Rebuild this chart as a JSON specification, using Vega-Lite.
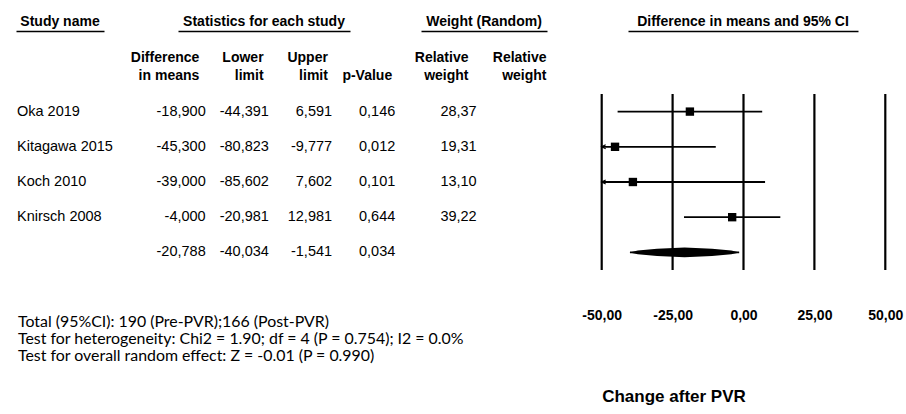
{
  "$schema": "https://vega.github.io/schema/vega-lite/v6.json",
  "width": 906,
  "height": 414,
  "padding": 0,
  "autosize": {"type": "none"},
  "background": "white",
  "config": {
    "view": {"stroke": null},
    "locale": {"number": {"decimal": ",", "thousands": ".", "grouping": [3], "currency": ["", ""], "minus": "-"}},
    "text": {"font": "Liberation Sans", "fontSize": 14.5, "color": "#000"},
    "axis": {"labelFont": "Liberation Sans", "titleFont": "Liberation Sans"}
  },
  "datasets": {
    "studies": [
      {"study": "Oka 2019", "label": "Oka 2019", "diff": -18.9, "lower": -44.391, "upper": 6.591, "p": 0.146, "weight": 28.37},
      {"study": "Kitagawa 2015", "label": "Kitagawa 2015", "diff": -45.3, "lower": -80.823, "upper": -9.777, "p": 0.012, "weight": 19.31},
      {"study": "Koch 2010", "label": "Koch 2010", "diff": -39.0, "lower": -85.602, "upper": 7.602, "p": 0.101, "weight": 13.10},
      {"study": "Knirsch 2008", "label": "Knirsch 2008", "diff": -4.0, "lower": -20.981, "upper": 12.981, "p": 0.644, "weight": 39.22},
      {"study": "Summary", "label": "", "diff": -20.788, "lower": -40.034, "upper": -1.541, "p": 0.034, "weight": null}
    ],
    "groups": [
      {"group": "Study name"},
      {"group": "Statistics for each study"},
      {"group": "Weight (Random)"},
      {"group": "Difference in means and 95% CI"}
    ],
    "statHeaders": [
      {"col": "diff", "header": "Difference\nin means"},
      {"col": "lower", "header": "Lower\nlimit"},
      {"col": "upper", "header": "Upper\nlimit"},
      {"col": "p", "header": "\np-Value"}
    ],
    "weightHeaders": [
      {"col": "w1", "header": "Relative\nweight"},
      {"col": "w2", "header": "Relative\nweight"}
    ],
    "ticks": [{"v": -50}, {"v": -25}, {"v": 0}, {"v": 25}, {"v": 50}],
    "notes": [
      {"line": "Total (95%CI): 190 (Pre-PVR);166 (Post-PVR)"},
      {"line": "Test for heterogeneity: Chi2 = 1.90; df = 4 (P = 0.754); I2 = 0.0%"},
      {"line": "Test for overall random effect: Z = -0.01 (P = 0.990)"}
    ]
  },
  "resolve": {"scale": {"x": "independent", "y": "independent"}, "axis": {"x": "independent", "y": "independent"}},
  "layer": [
    {
      "data": {"name": "groups"},
      "transform": [{"filter": "datum.group === 'Study name'"}],
      "mark": {"type": "text", "fontWeight": "bold", "fontSize": 14, "baseline": "middle"},
      "encoding": {
        "x": {"field": "group", "type": "nominal", "scale": {"type": "band", "domain": ["Study name"], "range": [16, 104], "paddingInner": 0, "paddingOuter": 0},
              "axis": {"orient": "top", "offset": -31, "labels": false, "ticks": false, "domain": true, "domainColor": "#000", "domainWidth": 1.6, "title": null, "grid": false}},
        "y": {"datum": "group", "type": "nominal", "scale": {"type": "point", "domain": ["group", "sub"], "range": [22, 58], "padding": 0}, "axis": null},
        "text": {"field": "group"}
      }
    },
    {
      "data": {"name": "groups"},
      "transform": [{"filter": "datum.group === 'Statistics for each study'"}],
      "mark": {"type": "text", "fontWeight": "bold", "fontSize": 14, "baseline": "middle"},
      "encoding": {
        "x": {"field": "group", "type": "nominal", "scale": {"type": "band", "domain": ["Statistics for each study"], "range": [178, 350], "paddingInner": 0, "paddingOuter": 0},
              "axis": {"orient": "top", "offset": -31, "labels": false, "ticks": false, "domain": true, "domainColor": "#000", "domainWidth": 1.6, "title": null, "grid": false}},
        "y": {"datum": "group", "type": "nominal", "scale": {"type": "point", "domain": ["group", "sub"], "range": [22, 58], "padding": 0}, "axis": null},
        "text": {"field": "group"}
      }
    },
    {
      "data": {"name": "groups"},
      "transform": [{"filter": "datum.group === 'Weight (Random)'"}],
      "mark": {"type": "text", "fontWeight": "bold", "fontSize": 14, "baseline": "middle"},
      "encoding": {
        "x": {"field": "group", "type": "nominal", "scale": {"type": "band", "domain": ["Weight (Random)"], "range": [421, 547], "paddingInner": 0, "paddingOuter": 0},
              "axis": {"orient": "top", "offset": -31, "labels": false, "ticks": false, "domain": true, "domainColor": "#000", "domainWidth": 1.6, "title": null, "grid": false}},
        "y": {"datum": "group", "type": "nominal", "scale": {"type": "point", "domain": ["group", "sub"], "range": [22, 58], "padding": 0}, "axis": null},
        "text": {"field": "group"}
      }
    },
    {
      "data": {"name": "groups"},
      "transform": [{"filter": "datum.group === 'Difference in means and 95% CI'"}],
      "mark": {"type": "text", "fontWeight": "bold", "fontSize": 14, "baseline": "middle"},
      "encoding": {
        "x": {"field": "group", "type": "nominal", "scale": {"type": "band", "domain": ["Difference in means and 95% CI"], "range": [628, 858], "paddingInner": 0, "paddingOuter": 0},
              "axis": {"orient": "top", "offset": -31, "labels": false, "ticks": false, "domain": true, "domainColor": "#000", "domainWidth": 1.6, "title": null, "grid": false}},
        "y": {"datum": "group", "type": "nominal", "scale": {"type": "point", "domain": ["group", "sub"], "range": [22, 58], "padding": 0}, "axis": null},
        "text": {"field": "group"}
      }
    },
    {
      "data": {"name": "statHeaders"},
      "mark": {"type": "text", "fontWeight": "bold", "fontSize": 14, "align": "right", "baseline": "middle", "lineBreak": "\n", "lineHeight": 18},
      "encoding": {
        "x": {"field": "col", "type": "nominal", "scale": {"type": "point", "domain": ["diff", "lower", "upper", "p"], "range": [199.3, 392.2], "padding": 0}, "axis": null},
        "y": {"datum": "sub", "type": "nominal", "scale": {"type": "point", "domain": ["group", "sub"], "range": [22, 58], "padding": 0}, "axis": null},
        "text": {"field": "header"}
      }
    },
    {
      "data": {"name": "weightHeaders"},
      "mark": {"type": "text", "fontWeight": "bold", "fontSize": 14, "align": "right", "baseline": "middle", "lineBreak": "\n", "lineHeight": 18},
      "encoding": {
        "x": {"field": "col", "type": "nominal", "scale": {"type": "point", "domain": ["w1", "w2"], "range": [468.5, 546.5], "padding": 0}, "axis": null},
        "y": {"datum": "sub", "type": "nominal", "scale": {"type": "point", "domain": ["group", "sub"], "range": [22, 58], "padding": 0}, "axis": null},
        "text": {"field": "header"}
      }
    },
    {
      "data": {"name": "studies"},
      "mark": {"type": "text", "align": "left", "baseline": "middle"},
      "encoding": {
        "x": {"datum": "Study name", "type": "nominal", "bandPosition": 0, "scale": {"type": "band", "domain": ["Study name"], "range": [17, 104], "paddingInner": 0, "paddingOuter": 0}, "axis": null},
        "y": {"field": "study", "type": "nominal", "scale": {"type": "band", "domain": ["Oka 2019", "Kitagawa 2015", "Koch 2010", "Knirsch 2008", "Summary"], "range": [94, 270], "paddingInner": 0, "paddingOuter": 0}, "axis": null},
        "text": {"field": "label"}
      }
    },
    {
      "data": {"name": "studies"},
      "transform": [{"fold": ["diff", "lower", "upper", "p"], "as": ["col", "value"]}],
      "mark": {"type": "text", "align": "right", "baseline": "middle"},
      "encoding": {
        "x": {"field": "col", "type": "nominal", "scale": {"type": "point", "domain": ["diff", "lower", "upper", "p"], "range": [205.7, 395.3], "padding": 0}, "axis": null},
        "y": {"field": "study", "type": "nominal", "scale": {"type": "band", "domain": ["Oka 2019", "Kitagawa 2015", "Koch 2010", "Knirsch 2008", "Summary"], "range": [94, 270], "paddingInner": 0, "paddingOuter": 0}, "axis": null},
        "text": {"field": "value", "type": "quantitative", "format": ".3f"}
      }
    },
    {
      "data": {"name": "studies"},
      "transform": [{"filter": "isValid(datum.weight)"}],
      "mark": {"type": "text", "align": "right", "baseline": "middle"},
      "encoding": {
        "x": {"datum": "w1", "type": "nominal", "scale": {"type": "point", "domain": ["w1", "w2"], "range": [476.7, 554.7], "padding": 0}, "axis": null},
        "y": {"field": "study", "type": "nominal", "scale": {"type": "band", "domain": ["Oka 2019", "Kitagawa 2015", "Koch 2010", "Knirsch 2008", "Summary"], "range": [94, 270], "paddingInner": 0, "paddingOuter": 0}, "axis": null},
        "text": {"field": "weight", "type": "quantitative", "format": ".2f"}
      }
    },
    {
      "data": {"name": "notes"},
      "mark": {"type": "text", "align": "left", "baseline": "middle", "font": "Lato", "fontSize": 15.9},
      "encoding": {
        "x": {"datum": "notes", "type": "nominal", "bandPosition": 0, "scale": {"type": "band", "domain": ["notes"], "range": [18, 480], "paddingInner": 0, "paddingOuter": 0}, "axis": null},
        "y": {"field": "line", "type": "nominal", "sort": null, "scale": {"type": "point", "domain": ["Total (95%CI): 190 (Pre-PVR);166 (Post-PVR)", "Test for heterogeneity: Chi2 = 1.90; df = 4 (P = 0.754); I2 = 0.0%", "Test for overall random effect: Z = -0.01 (P = 0.990)"], "range": [321.5, 356], "padding": 0}, "axis": null},
        "text": {"field": "line"}
      }
    },
    {
      "layer": [
        {
          "data": {"name": "ticks"},
          "mark": {"type": "rule", "color": "#000", "strokeWidth": 2.2},
          "encoding": {
            "x": {"field": "v", "type": "quantitative",
                  "scale": {"domain": [-50, 50], "range": [601.7, 885.3], "clamp": true, "nice": false, "zero": false},
                  "axis": {"orient": "bottom", "offset": -108, "values": [-50, -25, 0, 25, 50], "format": ".2f", "labelFontWeight": "bold", "labelFontSize": 14, "labelColor": "#000", "labelPadding": 2, "labelFlush": false, "labelOverlap": false, "labelBound": false, "ticks": false, "tickSize": 0, "domain": false, "grid": false, "title": "Change after PVR", "titleFontSize": 17, "titleFontWeight": "bold", "titleColor": "#000", "titleAnchor": "start", "titlePadding": 66}},
            "y": {"datum": "Oka 2019", "type": "nominal", "bandPosition": 0, "scale": {"type": "band", "domain": ["Oka 2019", "Kitagawa 2015", "Koch 2010", "Knirsch 2008", "Summary"], "range": [94, 270], "paddingInner": 0, "paddingOuter": 0}, "axis": null},
            "y2": {"datum": "Summary", "bandPosition": 1}
          }
        },
        {
          "data": {"name": "studies"},
          "mark": {"type": "rule", "color": "#000", "strokeWidth": 1.8},
          "encoding": {
            "x": {"field": "lower", "type": "quantitative"},
            "x2": {"field": "upper"},
            "y": {"field": "study", "type": "nominal", "axis": null}
          }
        },
        {
          "data": {"name": "studies"},
          "transform": [{"filter": "datum.study !== 'Summary'"}],
          "mark": {"type": "point", "shape": "square", "filled": true, "color": "#000", "size": 70, "opacity": 1},
          "encoding": {
            "x": {"field": "diff", "type": "quantitative"},
            "y": {"field": "study", "type": "nominal", "axis": null}
          }
        },
        {
          "data": {"name": "studies"},
          "transform": [{"filter": "datum.lower < -50"}],
          "mark": {"type": "point", "shape": "M2,-1L0,0L2,1", "filled": false, "color": "#000", "strokeWidth": 1.2, "size": 16, "opacity": 1},
          "encoding": {
            "x": {"field": "lower", "type": "quantitative"},
            "y": {"field": "study", "type": "nominal", "axis": null}
          }
        },
        {
          "data": {"name": "studies"},
          "transform": [{"filter": "datum.study === 'Summary'"}],
          "mark": {"type": "point", "shape": "M-1,0L-0.85,-0.035L-0.5,-0.065L0,-0.09L0.5,-0.065L0.85,-0.035L1,0L0.85,0.035L0.5,0.065L0,0.09L-0.5,0.065L-0.85,0.035Z", "filled": true, "color": "#000", "size": 12100, "opacity": 1},
          "encoding": {
            "x": {"field": "diff", "type": "quantitative"},
            "y": {"field": "study", "type": "nominal", "axis": null}
          }
        }
      ]
    }
  ]
}
